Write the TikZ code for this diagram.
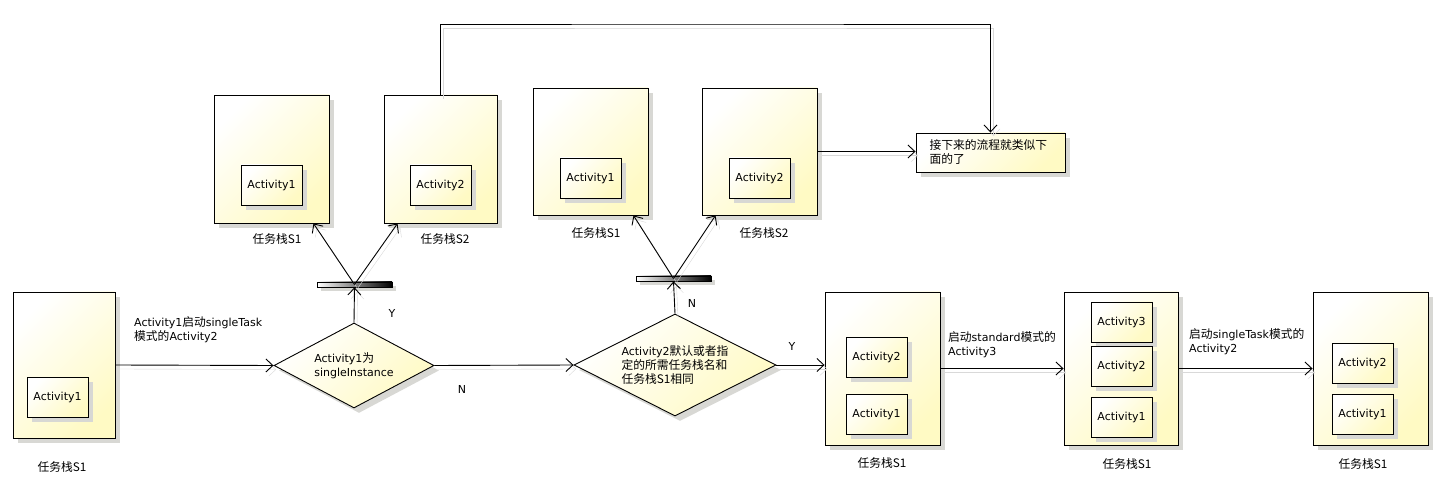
\documentclass[tikz,border=0pt]{standalone}
\usepackage{fontspec}
\setmainfont{DejaVu Sans}
\newfontfamily\zh[Scale=1.07]{Noto Sans CJK SC}
\usetikzlibrary{shapes.geometric,arrows.meta,shadows,calc}
\definecolor{yfill}{RGB}{255,250,196}
\definecolor{shd}{RGB}{216,216,212}
\begin{document}
\begin{tikzpicture}[x=1pt,y=-1pt,
  every node/.style={font=\fontsize{11}{14}\selectfont},
  shadowed/.style={drop shadow={shadow xshift=5pt,shadow yshift=-5pt,fill=shd,opacity=1}},
  stack/.style={draw=black,line width=0.9pt,top color=white,bottom color=yfill,shading angle=45,shadowed,inner sep=0pt},
  act/.style={stack,minimum width=61pt,minimum height=40pt},
  dec/.style={diamond,draw=black,line width=0.9pt,top color=white,bottom color=yfill,shading angle=45,shadowed,inner sep=0pt,align=left},
  bar/.style={draw=black,line width=0.7pt,left color=white,right color=black,minimum width=75pt,minimum height=5pt,inner sep=0pt,drop shadow={shadow xshift=4pt,shadow yshift=-4pt,fill=shd,opacity=1}},
  note/.style={stack,text width=122pt,inner xsep=13.5pt,minimum height=39pt,align=left},
  conn/.style={line width=0.9pt,-{Straight Barb[length=7pt,width=13pt,line width=0.9pt]},
    preaction={draw=black!15,transform canvas={shift={(3pt,-4pt)}}}},
  lbl/.style={inner sep=0pt,align=left,anchor=west},
  stlabel/.style={inner sep=0pt}]
\fill[white] (0,0) rectangle (1444,481);
\useasboundingbox (0,0) rectangle (1444,481);

% stack A
\node[stack,minimum width=102pt,minimum height=146pt] (A) at (64,365) {};
\node[act] (A1) at (57.5,397) {Activity1};
\node[stlabel] (Acap) at (62,467) {\zh 任务栈S1};

% top stacks (singleInstance branch)
\node[stack,minimum width=115pt,minimum height=128pt] (B1) at (271.5,159) {};
\node[act] (B1a) at (271.5,185) {Activity1};
\node[stlabel] (B1cap) at (277,239) {\zh 任务栈S1};
\node[stack,minimum width=113pt,minimum height=128pt] (B2) at (440.5,159) {};
\node[act] (B2a) at (440.5,185) {Activity2};
\node[stlabel] (B2cap) at (445,239) {\zh 任务栈S2};

% top stacks (second branch)
\node[stack,minimum width=115pt,minimum height=127pt] (C1) at (590.5,151.5) {};
\node[act] (C1a) at (590.5,178) {Activity1};
\node[stlabel] (C1cap) at (596,233) {\zh 任务栈S1};
\node[stack,minimum width=115pt,minimum height=127pt] (C2) at (759.5,151.5) {};
\node[act] (C2a) at (759.5,178) {Activity2};
\node[stlabel] (C2cap) at (764,233) {\zh 任务栈S2};

% note
\node[note] (note) at (990.5,152.5) {\zh 接下来的流程就类似下\\面的了};

% decisions
\node[dec,aspect=1.88,minimum width=160pt,minimum height=85pt] (D1) at (354,365.5) {Activity1{\zh 为}\\singleInstance};
\node[dec,aspect=1.98,minimum width=202pt,minimum height=102pt] (D2) at (675,365) {Activity2{\zh 默认或者指}\\{\zh 定的所需任务栈名和}\\{\zh 任务栈S1相同}};

% bars
\node[bar] (bar1) at (354.5,284.5) {};
\node[bar] (bar2) at (673.5,278.5) {};

% result stacks
\node[stack,minimum width=115pt,minimum height=153pt] (D) at (882.5,368.5) {};
\node[act] (Da2) at (876.5,357) {Activity2};
\node[act] (Da1) at (876.5,414) {Activity1};
\node[stlabel] (Dcap) at (882,463) {\zh 任务栈S1};

\node[stack,minimum width=114pt,minimum height=153pt] (E) at (1121,368.5) {};
\node[act] (Ea3) at (1121.5,322) {Activity3};
\node[act] (Ea2) at (1121.5,366) {Activity2};
\node[act] (Ea1) at (1121.5,417) {Activity1};
\node[stlabel] (Ecap) at (1127,464) {\zh 任务栈S1};

\node[stack,minimum width=115pt,minimum height=153pt] (F) at (1370.5,368.5) {};
\node[act] (Fa2) at (1362.5,363) {Activity2};
\node[act] (Fa1) at (1362.5,414) {Activity1};
\node[stlabel] (Fcap) at (1363,464) {\zh 任务栈S1};

% edge labels
\node[lbl] (t1) at (134,330) {Activity1{\zh 启动}singleTask\\{\zh 模式的}Activity2};
\node[lbl] (t2) at (948,344.5) {{\zh 启动}standard{\zh 模式的}\\Activity3};
\node[lbl] (t3) at (1189,341.5) {{\zh 启动}singleTask{\zh 模式的}\\Activity2};
\node[stlabel] (y1) at (392,313) {Y};
\node[stlabel] (n1) at (462,389) {N};
\node[stlabel] (n2) at (692,303) {N};
\node[stlabel] (y2) at (792,346) {Y};

% connectors
\coordinate (topc) at (700,24);
\draw[conn] (A.east) -- (D1.west);
\draw[conn] (D1.north) -- (bar1.south);
\draw[conn] (bar1.center) -- ($(B1.south east)+(-16,0)$);
\draw[conn] (bar1.center) -- ($(B2.south west)+(14,0)$);
\draw[conn] (B2.north) |- (topc) -| (note.north);
\draw[conn] (D1.east) -- (D2.west);
\draw[conn] (D2.north) -- (bar2.south);
\draw[conn] (bar2.center) -- ($(C1.south east)+(-15,0)$);
\draw[conn] (bar2.center) -- ($(C2.south west)+(14,0)$);
\draw[conn] (C2.east) -- (C2.east -| note.west);
\draw[conn] (D2.east) -- (D2.east -| D.west);
\draw[conn] (D.east) -- (E.west);
\draw[conn] (E.east) -- (F.west);
\end{tikzpicture}
\end{document}
